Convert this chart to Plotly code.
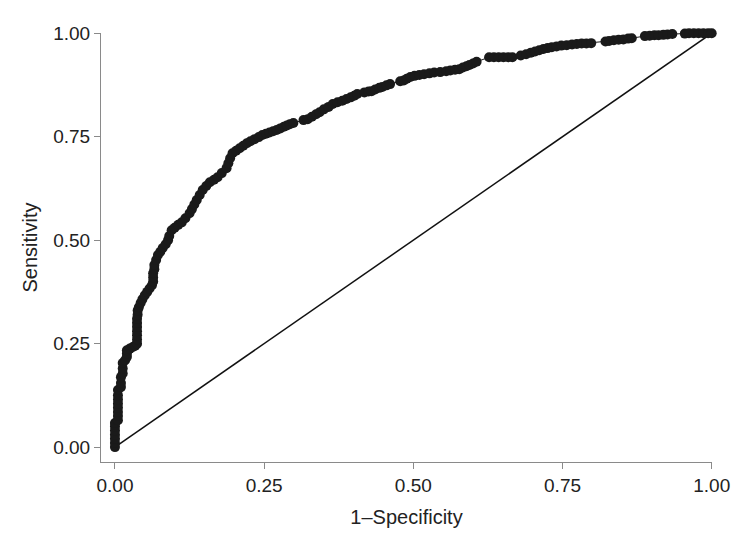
import plotly.graph_objects as go

# ROC curve points (1-Specificity, Sensitivity)
fpr = [0, 0, 0, 0, 0, 0, 0,
       0.005, 0.005, 0.005, 0.005, 0.005, 0.005, 0.005, 0.005,
       0.010, 0.010, 0.010,
       0.013, 0.013, 0.013,
       0.017, 0.020, 0.020, 0.020,
       0.025, 0.030, 0.034, 0.037, 0.037, 0.037, 0.037, 0.037, 0.037, 0.037,
       0.038, 0.038, 0.040, 0.043, 0.046, 0.050, 0.054, 0.058, 0.062,
       0.064, 0.064, 0.064, 0.066, 0.066, 0.069, 0.072, 0.076, 0.080, 0.085, 0.089, 0.091, 0.095,
       0.100, 0.106, 0.112, 0.118, 0.125, 0.129, 0.133, 0.137, 0.142, 0.147, 0.153, 0.159,
       0.166, 0.172, 0.179, 0.187, 0.190, 0.193, 0.197, 0.203, 0.209, 0.215, 0.221, 0.227,
       0.234, 0.241, 0.247, 0.253, 0.259, 0.265, 0.271, 0.277, 0.283, 0.288, 0.293, 0.299,
       0.316, 0.323, 0.330, 0.337, 0.343, 0.350, 0.358, 0.365, 0.373, 0.381, 0.388, 0.395,
       0.401, 0.406,
       0.418, 0.425, 0.430, 0.436, 0.443, 0.448, 0.455, 0.461,
       0.478, 0.484, 0.489, 0.495, 0.502, 0.510, 0.518, 0.527, 0.535, 0.545, 0.555, 0.562,
       0.570, 0.577, 0.583, 0.589, 0.594, 0.600, 0.606,
       0.627, 0.635, 0.643, 0.651, 0.659, 0.666,
       0.680, 0.689, 0.697, 0.704, 0.711, 0.718, 0.725, 0.732, 0.740, 0.748, 0.757, 0.766,
       0.774, 0.782, 0.790, 0.798,
       0.822, 0.828, 0.836, 0.844, 0.852, 0.860, 0.866,
       0.888, 0.896, 0.904, 0.911, 0.919, 0.926, 0.934,
       0.955, 0.962, 0.970, 0.978, 0.986, 0.994, 1.0]
tpr = [0, 0.01, 0.02, 0.03, 0.04, 0.05, 0.058,
       0.065, 0.075, 0.085, 0.095, 0.105, 0.115, 0.125, 0.138,
       0.145, 0.155, 0.169,
       0.178, 0.190, 0.203,
       0.210, 0.218, 0.226, 0.234,
       0.238, 0.242, 0.245, 0.250, 0.260, 0.270, 0.280, 0.290, 0.300, 0.310,
       0.320, 0.330, 0.338, 0.348, 0.357, 0.367, 0.375, 0.383, 0.391,
       0.400, 0.410, 0.420, 0.430, 0.440, 0.452, 0.464, 0.472, 0.481, 0.490, 0.500, 0.510, 0.524,
       0.530, 0.537, 0.543, 0.553, 0.565, 0.575, 0.586, 0.597, 0.609, 0.621, 0.631, 0.640,
       0.646, 0.652, 0.662, 0.674, 0.686, 0.698, 0.710, 0.716, 0.722, 0.728, 0.734, 0.739,
       0.744, 0.749, 0.754, 0.757, 0.760, 0.763, 0.766, 0.770, 0.774, 0.777, 0.780, 0.783,
       0.790, 0.792, 0.798, 0.804, 0.809, 0.816, 0.822, 0.829, 0.833, 0.837, 0.841, 0.845,
       0.849, 0.853,
       0.857, 0.859, 0.860, 0.864, 0.868, 0.870, 0.874, 0.877,
       0.884, 0.886, 0.890, 0.894, 0.897, 0.899, 0.901, 0.903, 0.905, 0.906, 0.908, 0.910,
       0.912, 0.913, 0.917, 0.920, 0.923, 0.927, 0.931,
       0.942, 0.942, 0.942, 0.942, 0.942, 0.942,
       0.946, 0.949, 0.953, 0.956, 0.959, 0.962, 0.964, 0.966, 0.968, 0.970, 0.971, 0.973,
       0.974, 0.975, 0.975, 0.976,
       0.980, 0.981, 0.983, 0.984, 0.985, 0.987, 0.988,
       0.993, 0.994, 0.995, 0.995, 0.996, 0.997, 0.998,
       0.999, 1.0, 1.0, 1.0, 1.0, 1.0, 1.0]

ref_x = [0, 1]
ref_y = [0, 1]

tick_vals = [0, 0.25, 0.5, 0.75, 1.0]
tick_text = ["0.00", "0.25", "0.50", "0.75", "1.00"]

x_title = "1\u2013Specificity"
y_title = "Sensitivity"

FONT = "Liberation Sans, Arial, Helvetica, sans-serif"
AXIS_GRAY = "#8a8a8a"
TEXT = "#222222"

fig = go.Figure()
fig.add_trace(go.Scatter(
    x=ref_x, y=ref_y, mode="lines",
    line=dict(color="#111111", width=1.5),
    hoverinfo="skip", showlegend=False, cliponaxis=False,
))
fig.add_trace(go.Scatter(
    x=fpr, y=tpr, mode="lines+markers",
    line=dict(color="#1a1a1a", width=1),
    marker=dict(color="#1a1a1a", size=10, line=dict(width=0)),
    showlegend=False, cliponaxis=False,
))

axis_common = dict(
    tickvals=tick_vals, ticktext=tick_text,
    ticks="outside", ticklen=6, tickwidth=1, tickcolor=AXIS_GRAY,
    showline=True, linecolor=AXIS_GRAY, linewidth=1,
    showgrid=False, zeroline=False,
    tickfont=dict(family=FONT, size=19, color=TEXT),
    title_font=dict(family=FONT, size=20, color=TEXT),
)

fig.update_layout(
    width=750, height=544,
    margin=dict(l=101, r=38, t=33, b=82),
    paper_bgcolor="white", plot_bgcolor="white",
    xaxis=dict(range=[-0.0234, 1.0005], title=dict(text=x_title, standoff=15), **axis_common),
    yaxis=dict(range=[-0.036, 1.0005], title=dict(text=y_title, standoff=10), **axis_common),
)

fig.write_html("out.html", config={"displayModeBar": False},
               post_script="document.body.style.margin='0';")
